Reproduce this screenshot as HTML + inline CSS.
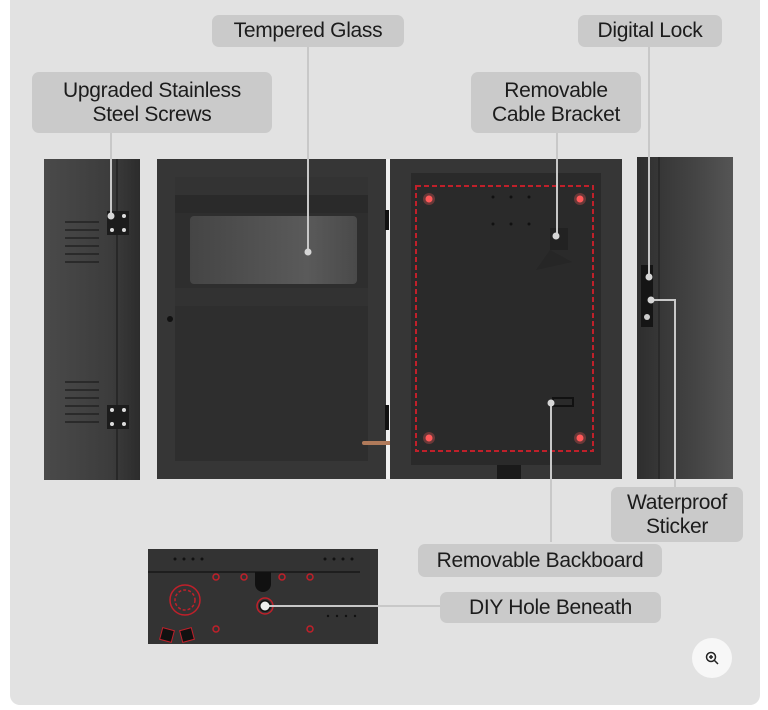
<!DOCTYPE html>
<html><head><meta charset="utf-8"><style>
html,body{margin:0;padding:0;background:#fff;width:768px;height:710px;overflow:hidden;font-family:"Liberation Sans",sans-serif}
.panel{position:absolute;left:10px;top:-10px;width:750px;height:715px;background:#e2e2e2;border-radius:10px}
.lbl{position:absolute;background:#cacaca;border-radius:7px;color:#1c1c1c;font-size:21px;text-align:center;line-height:24px;display:flex;align-items:center;justify-content:center;letter-spacing:-0.3px}
svg{position:absolute;left:0;top:0}
</style></head><body>
<div class="panel"></div>
<svg width="768" height="710" viewBox="0 0 768 710">
<defs>
<linearGradient id="lp" x1="0" x2="1"><stop offset="0" stop-color="#4a4a4a"/><stop offset="0.7" stop-color="#3c3c3c"/><stop offset="1" stop-color="#2c2c2c"/></linearGradient>
<linearGradient id="rp" x1="0" x2="1"><stop offset="0" stop-color="#2e2e2e"/><stop offset="0.6" stop-color="#444"/><stop offset="1" stop-color="#555"/></linearGradient>
<linearGradient id="gl" x1="0" x2="1"><stop offset="0" stop-color="#454545"/><stop offset="0.7" stop-color="#5a5a5a"/><stop offset="1" stop-color="#4a4a4a"/></linearGradient>
</defs>
<!-- left panel -->
<rect x="44" y="159" width="96" height="321" fill="url(#lp)"/>
<line x1="117" y1="159" x2="117" y2="480" stroke="#222" stroke-width="1.5"/>
<g stroke="#222" stroke-width="1.5" fill="none">
<path d="M65 222h34M65 230h34M65 238h34M65 246h34M65 254h34M65 262h34"/>
<path d="M65 382h34M65 390h34M65 398h34M65 406h34M65 414h34M65 422h34"/>
</g>
<rect x="107" y="211" width="22" height="24" fill="#1c1c1c"/>
<rect x="107" y="405" width="22" height="24" fill="#1c1c1c"/>
<g fill="#ddd"><circle cx="112" cy="216" r="2"/><circle cx="124" cy="216" r="2"/><circle cx="112" cy="230" r="2"/><circle cx="124" cy="230" r="2"/>
<circle cx="112" cy="410" r="2"/><circle cx="124" cy="410" r="2"/><circle cx="112" cy="424" r="2"/><circle cx="124" cy="424" r="2"/></g>
<!-- door -->
<rect x="157" y="159" width="230" height="320" fill="#363636"/>
<rect x="175" y="177" width="193" height="284" fill="#2e2e2e"/>
<rect x="175" y="177" width="193" height="18" fill="#333"/>
<rect x="175" y="195" width="193" height="18" fill="#2a2a2a"/>
<rect x="190" y="216" width="167" height="68" rx="4" fill="url(#gl)"/>
<rect x="175" y="288" width="193" height="18" fill="#323232"/>
<circle cx="170" cy="319" r="3" fill="#111"/>
<rect x="386" y="159" width="4" height="320" fill="#f0f0f0"/>
<rect x="385" y="210" width="4" height="20" fill="#111"/>
<rect x="385" y="405" width="4" height="25" fill="#111"/>
<rect x="362" y="441" width="55" height="4" rx="2" fill="#b07a5a"/>
<!-- back -->
<rect x="390" y="159" width="232" height="320" fill="#363636"/>
<rect x="411" y="173" width="190" height="292" fill="#2a2a2a"/>
<rect x="416" y="186" width="177" height="265" fill="none" stroke="#c0202a" stroke-width="2" stroke-dasharray="5,3"/>
<rect x="497" y="465" width="24" height="14" fill="#1a1a1a"/>
<g fill="#ff5a5a"><circle cx="429" cy="199" r="3.5"/><circle cx="580" cy="199" r="3.5"/><circle cx="429" cy="438" r="3.5"/><circle cx="580" cy="438" r="3.5"/></g>
<g fill="#ff5a5a" opacity="0.3"><circle cx="429" cy="199" r="6"/><circle cx="580" cy="199" r="6"/><circle cx="429" cy="438" r="6"/><circle cx="580" cy="438" r="6"/></g>
<g fill="#111"><circle cx="493" cy="197" r="1.5"/><circle cx="511" cy="197" r="1.5"/><circle cx="529" cy="197" r="1.5"/><circle cx="493" cy="224" r="1.5"/><circle cx="511" cy="224" r="1.5"/><circle cx="529" cy="224" r="1.5"/></g>
<rect x="550" y="228" width="18" height="22" fill="#222"/>
<path d="M550 250 L536 270 L572 262 Z" fill="#262626"/>
<rect x="553" y="398" width="20" height="8" fill="none" stroke="#111" stroke-width="2"/>
<!-- right panel -->
<rect x="637" y="157" width="96" height="322" fill="url(#rp)"/>
<line x1="659" y1="157" x2="659" y2="479" stroke="#262626" stroke-width="1.5"/>
<rect x="641" y="265" width="12" height="62" fill="#151515"/>
<circle cx="647" cy="317" r="3" fill="#ccc"/>
<!-- bottom -->
<rect x="148" y="549" width="230" height="95" fill="#333"/>
<line x1="148" y1="572" x2="360" y2="572" stroke="#1e1e1e" stroke-width="2"/>
<g fill="#111"><circle cx="175" cy="559" r="1.5"/><circle cx="184" cy="559" r="1.5"/><circle cx="193" cy="559" r="1.5"/><circle cx="202" cy="559" r="1.5"/>
<circle cx="325" cy="559" r="1.5"/><circle cx="334" cy="559" r="1.5"/><circle cx="343" cy="559" r="1.5"/><circle cx="352" cy="559" r="1.5"/>
<circle cx="328" cy="616" r="1.2"/><circle cx="337" cy="616" r="1.2"/><circle cx="346" cy="616" r="1.2"/><circle cx="355" cy="616" r="1.2"/></g>
<path d="M255 572h16v12a8 8 0 0 1 -16 0z" fill="#111"/>
<g fill="none" stroke="#c0202a" stroke-width="1.5"><circle cx="216" cy="577" r="3"/><circle cx="244" cy="577" r="3"/><circle cx="282" cy="577" r="3"/><circle cx="310" cy="577" r="3"/><circle cx="216" cy="629" r="3"/><circle cx="310" cy="629" r="3"/>
<circle cx="185" cy="600" r="15"/><circle cx="185" cy="600" r="10" stroke-dasharray="3,2"/>
<circle cx="265" cy="606" r="8"/></g>
<rect x="161" y="629" width="12" height="12" fill="#111" stroke="#c0202a" transform="rotate(15 167 635)"/>
<rect x="181" y="629" width="12" height="12" fill="#111" stroke="#c0202a" transform="rotate(-15 187 635)"/>
<circle cx="265" cy="606" r="6" fill="#111"/>
<!-- leader lines -->
<g stroke="#c8c8c8" stroke-width="2" fill="none">
<path d="M111 133V216"/><path d="M308 47V252"/><path d="M557 133V236"/><path d="M649 47V277"/>
<path d="M651 300H675V487"/><path d="M551 403V542"/><path d="M265 606H440"/>
</g>
<g fill="#d6d6d6"><circle cx="111" cy="216" r="3.5"/><circle cx="308" cy="252" r="3.5"/><circle cx="556" cy="236" r="3.5"/><circle cx="649" cy="277" r="3.5"/><circle cx="651" cy="300" r="3.5"/><circle cx="551" cy="403" r="3.5"/><circle cx="265" cy="606" r="4.5" fill="#eee"/></g>
<circle cx="712" cy="658" r="20" fill="#f7f7f7"/>
<circle cx="711" cy="657" r="4.5" fill="none" stroke="#222" stroke-width="1.5"/>
<path d="M714.5 660.5l3.5 3.5M709 657h4M711 655v4" stroke="#222" stroke-width="1.5"/>
</svg>
<div class="lbl" style="left:212px;top:15px;width:192px;height:32px">Tempered Glass</div>
<div class="lbl" style="left:578px;top:15px;width:144px;height:32px">Digital Lock</div>
<div class="lbl" style="left:32px;top:72px;width:240px;height:61px">Upgraded Stainless<br>Steel Screws</div>
<div class="lbl" style="left:471px;top:72px;width:170px;height:61px">Removable<br>Cable Bracket</div>
<div class="lbl" style="left:611px;top:487px;width:132px;height:55px">Waterproof<br>Sticker</div>
<div class="lbl" style="left:418px;top:544px;width:244px;height:33px">Removable Backboard</div>
<div class="lbl" style="left:440px;top:592px;width:221px;height:31px">DIY Hole Beneath</div>
</body></html>
